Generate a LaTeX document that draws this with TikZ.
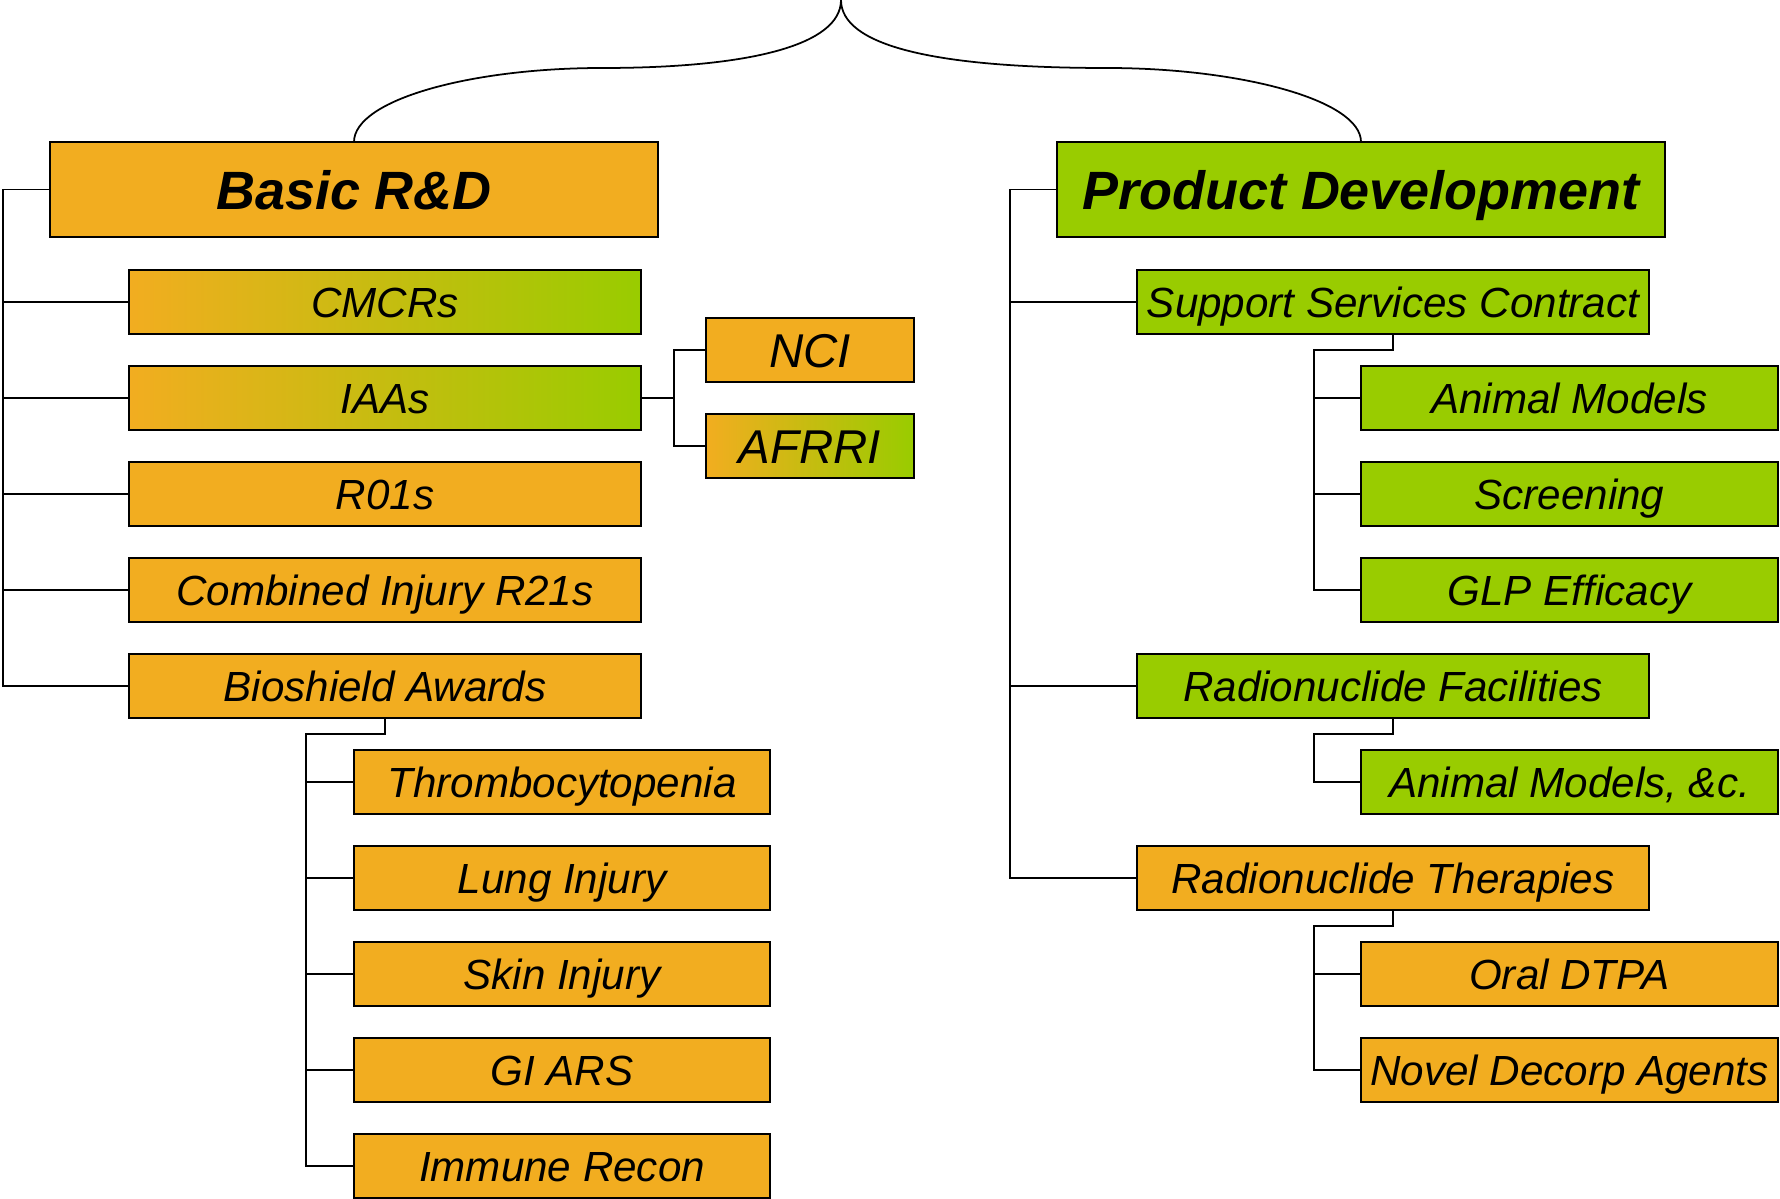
\documentclass[tikz,border=0pt]{standalone}
\usepackage{fontspec}
\setmainfont{Liberation Sans}
\usetikzlibrary{positioning}
\definecolor{orng}{RGB}{242,173,32}
\definecolor{grn}{RGB}{153,204,0}
\tikzstyle{box}=[draw, line width=1.1pt, inner sep=0pt, outer sep=0pt, minimum height=1.28cm, text height=17.6pt, text depth=0pt, font=\fontsize{24}{28}\selectfont\itshape]
\tikzstyle{obox}=[box, fill=orng]
\tikzstyle{gbox}=[box, fill=grn]
\tikzstyle{mbox}=[box, left color=orng, right color=grn]
\tikzstyle{wide}=[minimum width=10.24cm]
\tikzstyle{sub}=[minimum width=8.33cm]
\tikzstyle{small}=[minimum width=4.16cm, text height=19.8pt, font=\fontsize{27}{30}\selectfont\itshape]
\tikzstyle{head}=[draw, line width=1.1pt, inner sep=0pt, outer sep=0pt, minimum width=12.15cm, minimum height=1.9cm, text height=22.5pt, text depth=0pt, font=\fontsize{30.7}{34}\selectfont\bfseries\itshape]
\tikzstyle{link}=[line width=1.1pt]

\begin{document}
\begin{tikzpicture}[x=0.02cm, y=-0.02cm]
    \useasboundingbox (0,0) rectangle (1780,1199);
    % heads
    \node[head, fill=orng] (basic) at (354,189.5) {Basic R\&D};
    \node[head, fill=grn] (prod) at (1361,189.5) {Product Development};
    % basic r&d
    \node[mbox, wide] (cmcr) at (385,302) {CMCRs};
    \node[mbox, wide] (iaa) at (385,398) {IAAs};
    \node[obox, wide] (rzero) at (385,494) {R01s};
    \node[obox, wide] (combined) at (385,590) {Combined Injury R21s};
    \node[obox, wide] (bioshield) at (385,686) {Bioshield Awards};
    \node[obox, small] (nci) at (810,350) {NCI};
    \node[mbox, small] (afrri) at (810,446) {AFRRI};
    \node[obox, sub] (thromb) at (562,782) {Thrombocytopenia};
    \node[obox, sub] (lung) at (562,878) {Lung Injury};
    \node[obox, sub] (skin) at (562,974) {Skin Injury};
    \node[obox, sub] (giars) at (562,1070) {GI ARS};
    \node[obox, sub] (immune) at (562,1166) {Immune Recon};
    % product development
    \node[gbox, wide] (support) at (1393,302) {Support Services Contract};
    \node[gbox, sub] (animal) at (1569.5,398) {Animal Models};
    \node[gbox, sub] (screen) at (1569.5,494) {Screening};
    \node[gbox, sub] (glp) at (1569.5,590) {GLP Efficacy};
    \node[gbox, wide] (radfac) at (1393,686) {Radionuclide Facilities};
    \node[gbox, sub] (animalc) at (1569.5,782) {Animal Models, \&c.};
    \node[obox, wide] (radther) at (1393,878) {Radionuclide Therapies};
    \node[obox, sub] (oral) at (1569.5,974) {Oral DTPA};
    \node[obox, sub] (decorp) at (1569.5,1070) {Novel Decorp Agents};

    \coordinate (tip) at (841,0);
    \coordinate (ltrunk) at (3,0);
    \coordinate (ntrunk) at (674,0);
    \coordinate (btrunk) at (306,734);
    \coordinate (rtrunk) at (1010,0);
    \coordinate (strunk) at (1314,350);
    \coordinate (ftrunk) at (1314,734);
    \coordinate (ttrunk) at (1314,926);

    % brace
    \draw[line width=1pt] (basic.north) .. controls (354,100) and (470,68) .. (602,68)
        .. controls (750,68) and (841,45) .. (tip)
        .. controls (841,45) and (932,68) .. (1107,68)
        .. controls (1240,68) and (1361,100) .. (prod.north);

    % left tree
    \draw[link] (basic.west) -- (basic.west -| ltrunk) |- (bioshield.west);
    \draw[link] (cmcr.west) -- (cmcr.west -| ltrunk);
    \draw[link] (iaa.west) -- (iaa.west -| ltrunk);
    \draw[link] (rzero.west) -- (rzero.west -| ltrunk);
    \draw[link] (combined.west) -- (combined.west -| ltrunk);
    \draw[link] (iaa.east) -- (iaa.east -| ntrunk);
    \draw[link] (nci.west) -- (nci.west -| ntrunk) |- (afrri.west);
    \draw[link] (bioshield.south) |- (btrunk) |- (immune.west);
    \draw[link] (thromb.west) -- (thromb.west -| btrunk);
    \draw[link] (lung.west) -- (lung.west -| btrunk);
    \draw[link] (skin.west) -- (skin.west -| btrunk);
    \draw[link] (giars.west) -- (giars.west -| btrunk);

    % right tree
    \draw[link] (prod.west) -- (prod.west -| rtrunk) |- (radther.west);
    \draw[link] (support.west) -- (support.west -| rtrunk);
    \draw[link] (radfac.west) -- (radfac.west -| rtrunk);
    \draw[link] (support.south) |- (strunk) |- (glp.west);
    \draw[link] (animal.west) -- (animal.west -| strunk);
    \draw[link] (screen.west) -- (screen.west -| strunk);
    \draw[link] (radfac.south) |- (ftrunk) |- (animalc.west);
    \draw[link] (radther.south) |- (ttrunk) |- (decorp.west);
    \draw[link] (oral.west) -- (oral.west -| ttrunk);
\end{tikzpicture}
\end{document}
